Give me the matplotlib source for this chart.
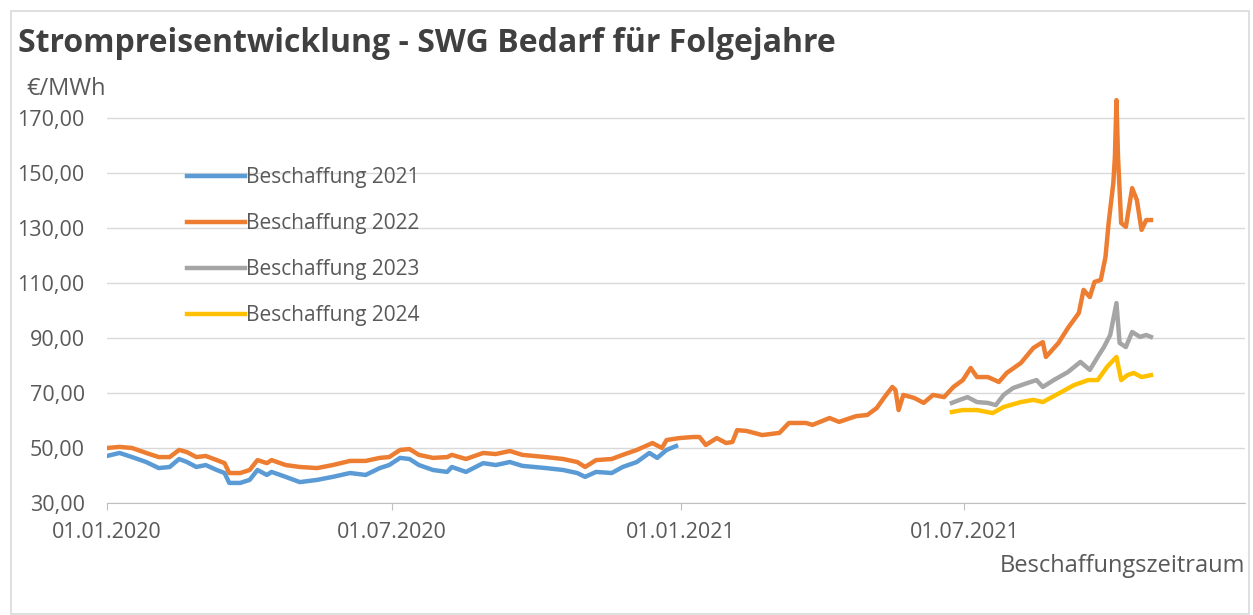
import matplotlib.pyplot as plt
import matplotlib.dates as mdates
import matplotlib.ticker as mticker
from matplotlib.patches import Rectangle
import pandas as pd

plt.rcParams['font.family'] = ['Open Sans', 'DejaVu Sans']

# Beschaffung 2022 (orange), longest series
dates_2022 = [
    "2020-01-01", "2020-01-09", "2020-01-17", "2020-01-26", "2020-02-03", "2020-02-10",
    "2020-02-16", "2020-02-21", "2020-02-27", "2020-03-04", "2020-03-11", "2020-03-16",
    "2020-03-19", "2020-03-26", "2020-04-01", "2020-04-06", "2020-04-12", "2020-04-15",
    "2020-04-24", "2020-05-03", "2020-05-14", "2020-05-24", "2020-06-04", "2020-06-14",
    "2020-06-23", "2020-06-29", "2020-07-06", "2020-07-12", "2020-07-18", "2020-07-27",
    "2020-08-05", "2020-08-08", "2020-08-17", "2020-08-28", "2020-09-05", "2020-09-14",
    "2020-09-22", "2020-10-07", "2020-10-18", "2020-10-27", "2020-11-01", "2020-11-08",
    "2020-11-18", "2020-11-25", "2020-12-04", "2020-12-14", "2020-12-20", "2020-12-23",
    "2020-12-31", "2021-01-09", "2021-01-13", "2021-01-17", "2021-01-24", "2021-01-30",
    "2021-02-03", "2021-02-06", "2021-02-12", "2021-02-22", "2021-03-05", "2021-03-11",
    "2021-03-22", "2021-03-26", "2021-04-06", "2021-04-12", "2021-04-23", "2021-04-30",
    "2021-05-06", "2021-05-11", "2021-05-16", "2021-05-18", "2021-05-20", "2021-05-23",
    "2021-05-30", "2021-06-05", "2021-06-11", "2021-06-18", "2021-06-24", "2021-06-30",
    "2021-07-05", "2021-07-09", "2021-07-16", "2021-07-23", "2021-07-28", "2021-08-06",
    "2021-08-14", "2021-08-20", "2021-08-22", "2021-08-30", "2021-09-05", "2021-09-12",
    "2021-09-15", "2021-09-19", "2021-09-22", "2021-09-26", "2021-09-29", "2021-10-01",
    "2021-10-04", "2021-10-05", "2021-10-06", "2021-10-07", "2021-10-09", "2021-10-12",
    "2021-10-16", "2021-10-19", "2021-10-22", "2021-10-25", "2021-10-28",
]
values_2022 = [
    50.0, 50.4, 50.0, 48.2, 46.7, 46.7,
    49.3, 48.5, 46.7, 47.1, 45.6, 44.5,
    40.9, 40.9, 42.0, 45.6, 44.5, 45.6,
    43.8, 43.1, 42.7, 43.8, 45.3, 45.3,
    46.4, 46.7, 49.3, 49.6, 47.5, 46.4,
    46.7, 47.5, 46.0, 48.2, 47.8, 48.9,
    47.5, 46.7, 46.0, 44.9, 43.1, 45.6,
    46.0, 47.5, 49.3, 51.8, 50.0, 52.9,
    53.6, 54.0, 54.0, 51.1, 53.6, 51.8,
    52.2, 56.5, 56.2, 54.7, 55.5, 59.1,
    59.1, 58.4, 60.9, 59.5, 61.6, 62.0,
    64.5, 68.5, 72.2, 71.1, 63.8, 69.3,
    68.2, 66.4, 69.3, 68.5, 72.2, 74.7,
    79.1, 75.8, 75.8, 74.0, 77.3, 80.9,
    86.4, 88.5, 83.1, 88.2, 93.6, 99.1,
    107.5, 104.9, 110.4, 111.1, 119.5, 131.8,
    146.4, 155.8, 176.5, 155.8, 131.8, 130.4,
    144.5, 140.2, 129.3, 132.9, 132.9,
]

# Beschaffung 2021 (blue), ends with 2020
dates_2021 = [
    "2020-01-01", "2020-01-09", "2020-01-17", "2020-01-26", "2020-02-03", "2020-02-10",
    "2020-02-16", "2020-02-21", "2020-02-27", "2020-03-04", "2020-03-11", "2020-03-16",
    "2020-03-19", "2020-03-26", "2020-04-01", "2020-04-06", "2020-04-12", "2020-04-15",
    "2020-04-24", "2020-05-03", "2020-05-14", "2020-05-24", "2020-06-04", "2020-06-14",
    "2020-06-23", "2020-06-29", "2020-07-06", "2020-07-12", "2020-07-18", "2020-07-27",
    "2020-08-05", "2020-08-08", "2020-08-17", "2020-08-28", "2020-09-05", "2020-09-14",
    "2020-09-22", "2020-10-07", "2020-10-18", "2020-10-27", "2020-11-01", "2020-11-08",
    "2020-11-18", "2020-11-25", "2020-12-04", "2020-12-12", "2020-12-17", "2020-12-23",
    "2020-12-29",
]
values_2021 = [
    47.1, 48.2, 46.7, 44.9, 42.7, 43.1,
    46.0, 44.9, 43.1, 43.8, 42.0, 40.9,
    37.3, 37.3, 38.4, 42.0, 40.2, 41.3,
    39.5, 37.6, 38.4, 39.5, 40.9, 40.2,
    42.7, 43.8, 46.4, 46.0, 43.8, 42.0,
    41.3, 43.1, 41.3, 44.5, 43.8, 44.9,
    43.5, 42.7, 42.0, 40.9, 39.5, 41.3,
    40.9, 43.1, 44.9, 48.2, 46.4, 49.3,
    50.7,
]

# Beschaffung 2023 (grey)
dates_2023 = [
    "2021-06-23", "2021-06-28", "2021-07-03", "2021-07-09", "2021-07-16", "2021-07-21",
    "2021-07-26", "2021-08-01", "2021-08-10", "2021-08-16", "2021-08-20", "2021-08-27",
    "2021-09-05", "2021-09-13", "2021-09-19", "2021-09-24", "2021-09-28", "2021-10-02",
    "2021-10-06", "2021-10-08", "2021-10-12", "2021-10-16", "2021-10-21", "2021-10-25",
    "2021-10-28",
]
values_2023 = [
    66.4, 67.5, 68.5, 66.7, 66.4, 65.6,
    69.3, 71.8, 73.6, 74.7, 72.2, 74.7,
    77.6, 81.3, 78.4, 83.1, 86.7, 91.1,
    102.7, 88.2, 86.7, 92.2, 90.4, 91.1,
    90.4,
]

# Beschaffung 2024 (yellow)
dates_2024 = [
    "2021-06-23", "2021-06-30", "2021-07-09", "2021-07-19", "2021-07-26", "2021-08-06",
    "2021-08-14", "2021-08-20", "2021-09-01", "2021-09-09", "2021-09-18", "2021-09-24",
    "2021-09-30", "2021-10-06", "2021-10-09", "2021-10-13", "2021-10-17", "2021-10-22",
    "2021-10-28",
]
values_2024 = [
    63.1, 63.8, 63.8, 62.7, 64.9, 66.7,
    67.5, 66.7, 70.4, 72.9, 74.7, 74.7,
    79.5, 83.1, 74.7, 76.5, 77.3, 75.8,
    76.5,
]

series = [
    ("Beschaffung 2021", dates_2021, values_2021, "#5B9BD5"),
    ("Beschaffung 2022", dates_2022, values_2022, "#ED7D31"),
    ("Beschaffung 2023", dates_2023, values_2023, "#A5A5A5"),
    ("Beschaffung 2024", dates_2024, values_2024, "#FFC000"),
]

x_ticks = ["2020-01-01", "2020-07-01", "2021-01-01", "2021-07-01"]
y_ticks = [30, 50, 70, 90, 110, 130, 150, 170]

W, H = 1253, 615
fig = plt.figure(figsize=(W / 100, H / 100), dpi=100)
fig.patches.append(Rectangle((11 / W, 0.002), 1238 / W, 1 - 11 / H - 0.002,
                             transform=fig.transFigure, fill=False,
                             edgecolor="#D9D9D9", linewidth=1.2))

ax = fig.add_axes([107 / W, 112 / H, 1138 / W, 412.5 / H])

for label, d, v, color in series:
    ax.plot(pd.to_datetime(d), v, color=color, linewidth=3.2, label=label,
            solid_joinstyle="round")

ax.set_ylim(30, 180)
ax.set_xlim(pd.Timestamp("2020-01-01"), pd.Timestamp("2021-12-27"))
ax.set_yticks(y_ticks)
ax.yaxis.set_major_formatter(mticker.FuncFormatter(lambda v, p: f"{v:.2f}".replace(".", ",")))
ax.set_xticks(pd.to_datetime(x_ticks))
ax.xaxis.set_major_formatter(mdates.DateFormatter("%d.%m.%Y"))

ax.grid(axis="y", color="#D9D9D9", linewidth=1.0)
ax.set_axisbelow(True)
for s in ["top", "right", "left"]:
    ax.spines[s].set_visible(False)
ax.spines["bottom"].set_color("#BFBFBF")
ax.tick_params(axis="y", length=0, pad=16, labelsize=15.5, labelcolor="#595959")
ax.tick_params(axis="x", length=5, color="#BFBFBF", pad=9, labelsize=15.5, labelcolor="#595959")

leg = ax.legend(loc="upper left", bbox_to_anchor=(187 / W, 1 - 167 / H),
                bbox_transform=fig.transFigure, frameon=False, fontsize=15,
                handlelength=2.8, handletextpad=0.05, labelspacing=1.2,
                borderpad=0, borderaxespad=0)
for t in leg.get_texts():
    t.set_color("#595959")

fig.text(18 / W, 1 - 43 / H, "Strompreisentwicklung - SWG Bedarf für Folgejahre",
         fontsize=23, fontweight="bold", color="#404040", va="center", ha="left")
fig.text(26 / W, 1 - 89 / H, "€/MWh", fontsize=17, color="#595959", va="center", ha="left")
fig.text(1245 / W, 1 - 566 / H, "Beschaffungszeitraum", fontsize=17, color="#595959",
         va="center", ha="right")

fig.savefig("out.png", dpi=100)
